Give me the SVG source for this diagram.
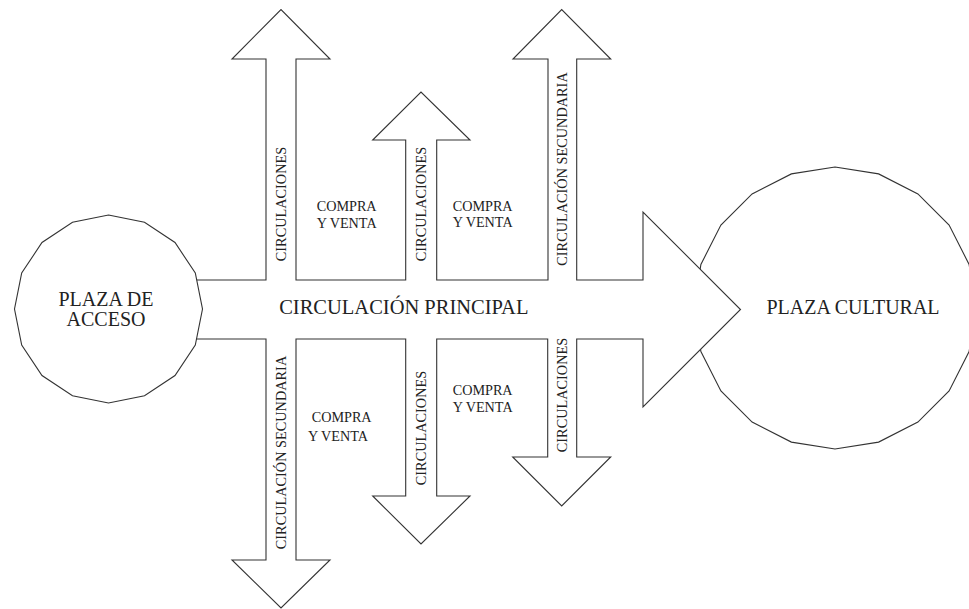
<svg xmlns="http://www.w3.org/2000/svg" width="969" height="609" viewBox="0 0 969 609">
<style>
.shape{fill:#fff;stroke:#333;stroke-width:1.1;stroke-linejoin:miter}
text{font-family:"Liberation Serif","Times New Roman",serif;fill:#222}
.big{font-size:20px}
.main{font-size:20.5px}
.sm{font-size:14.2px}
.v{font-size:14.3px;text-anchor:middle}
</style>
<rect width="969" height="609" fill="#fff"/>
<g id="plaza-cultural">
<polygon class="shape" points="835,167 878.6,173.9 917.9,193.9 949.1,225.1 969.1,264.4 976,308 969.1,351.6 949.1,390.9 917.9,422.1 878.6,442.1 835,449 791.4,442.1 752.1,422.1 720.9,390.9 700.9,351.6 694,308 700.9,264.4 720.9,225.1 752.1,193.9 791.4,173.9"/>
</g>
<g id="connectors">
<polygon id="circulaciones" class="shape" points="150,280 266,280 266,59 232,59 281,9.5 330,59 296,59 296,280 405.7,280 405.7,140 372.7,140 421,92 470,140 436.7,140 436.7,280 548,280 548,59 513,59 561.7,9.5 610.7,59 576.7,59 576.7,280 643,280 643,212 740.5,309.5 643,407 643,339 576.7,339 576.7,457 610.7,457 561.7,506 512.7,457 547.7,457 547.7,339 436.7,339 436.7,496 470,496 421,544 372.7,496 405.7,496 405.7,339 296,339 296,560 330,560 281,608 232,560 266,560 266,339 150,339"/>
</g>
<g id="plaza-acceso">
<polygon class="shape" points="108.5,215 144.5,222.2 175,242.5 195.3,273 202.5,309 195.3,345 175,375.5 144.5,395.8 108.5,403 72.5,395.8 42,375.5 21.7,345 14.5,309 21.7,273 42,242.5 72.5,222.2"/>
<text class="big" x="106" y="306" text-anchor="middle">PLAZA DE</text>
<text class="big" x="106" y="326" text-anchor="middle">ACCESO</text>
</g>
<g id="label-plaza-cultural">
<text class="big" x="853" y="314" text-anchor="middle">PLAZA CULTURAL</text>
</g>
<g id="label-principal">
<text class="main" x="403.8" y="313.5" text-anchor="middle">CIRCULACIÓN PRINCIPAL</text>
</g>
<g id="labels-circulaciones">
<text class="v" transform="translate(285.5,204) rotate(-90)">CIRCULACIONES</text>
<text class="v" transform="translate(426,204) rotate(-90)">CIRCULACIONES</text>
<text class="v" transform="translate(567,169) rotate(-90)">CIRCULACIÓN SECUNDARIA</text>
<text class="v" transform="translate(286,452.5) rotate(-90)">CIRCULACIÓN SECUNDARIA</text>
<text class="v" transform="translate(426,428) rotate(-90)">CIRCULACIONES</text>
<text class="v" transform="translate(567,395) rotate(-90)">CIRCULACIONES</text>
</g>
<g id="compra-venta-1">
<text class="sm" x="316.7" y="210.7">COMPRA</text>
<text class="sm" x="316.7" y="227.5">Y VENTA</text>
</g>
<g id="compra-venta-2">
<text class="sm" x="452.7" y="210.7">COMPRA</text>
<text class="sm" x="452.7" y="227">Y VENTA</text>
</g>
<g id="compra-venta-3">
<text class="sm" x="311.7" y="422.3">COMPRA</text>
<text class="sm" x="308" y="441">Y VENTA</text>
</g>
<g id="compra-venta-4">
<text class="sm" x="452.7" y="395">COMPRA</text>
<text class="sm" x="452.7" y="412.3">Y VENTA</text>
</g>
</svg>
